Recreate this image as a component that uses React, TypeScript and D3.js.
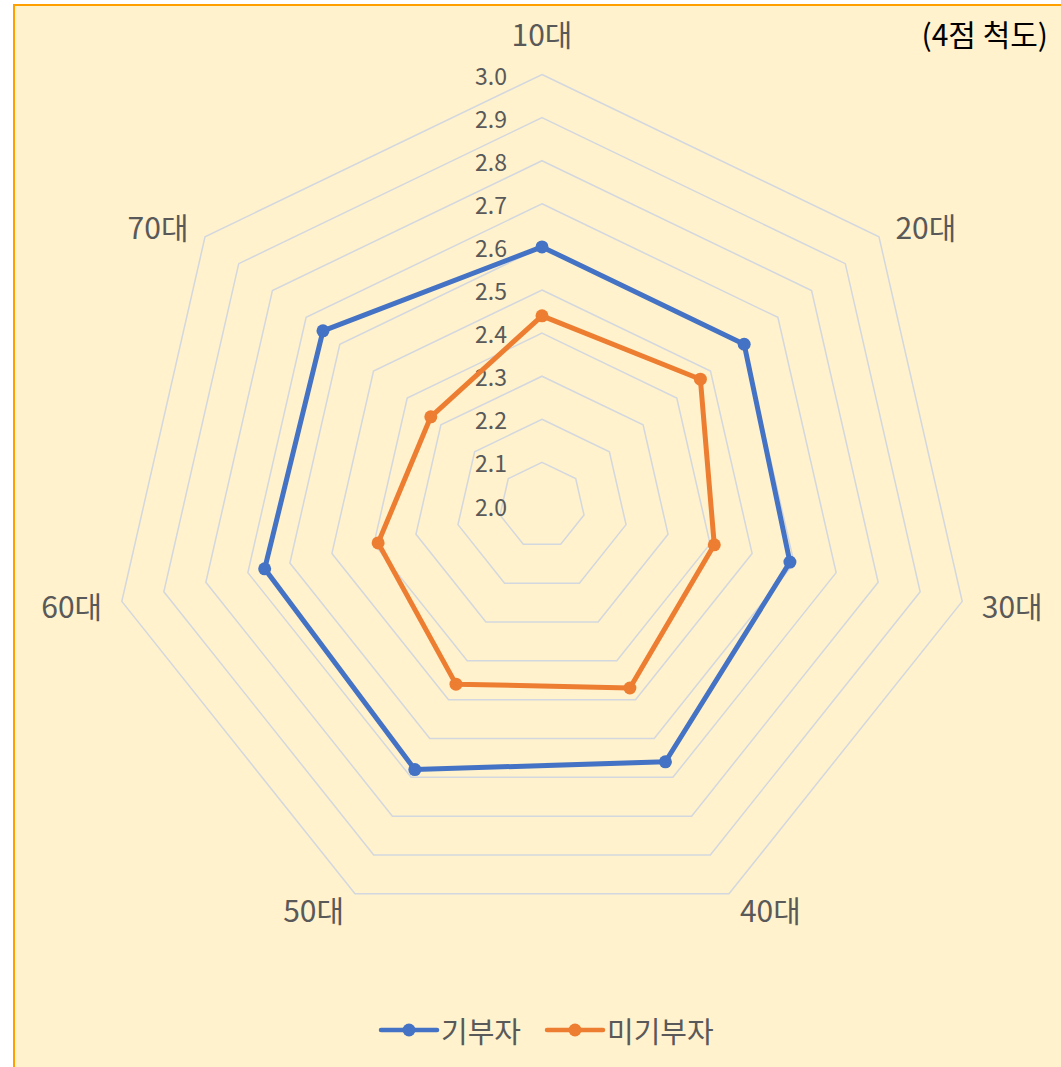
import React from "react";
import * as d3 from "d3";

const categories = ["10대", "20대", "30대", "40대", "50대", "60대", "70대"];
const donors = [2.6, 2.6, 2.59, 2.66, 2.68, 2.66, 2.65];
const nonDonors = [2.44, 2.47, 2.41, 2.47, 2.46, 2.39, 2.33];
const ticks = [2.0, 2.1, 2.2, 2.3, 2.4, 2.5, 2.6, 2.7, 2.8, 2.9, 3.0];
const seriesNames = ["기부자", "미기부자"];
const seriesColors = ["#4472C4", "#ED7D31"];
const unitLabel = "(4점 척도)";

const W = 1061;
const H = 1067;
const cx = 542;
const cy = 505.5;
const R = 431;
const FONT = "'Noto Sans CJK KR', 'Noto Sans', sans-serif";

export default function App() {
  const r = d3.scaleLinear().domain([2.0, 3.0]).range([0, R]);
  const n = categories.length;
  const ang = (i: number) => (i * 2 * Math.PI) / n;
  const pt = (i: number, v: number): [number, number] => [
    cx + r(v) * Math.sin(ang(i)),
    cy - r(v) * Math.cos(ang(i)),
  ];
  const lineGen = d3.line<[number, number]>().curve(d3.curveLinearClosed);
  const series = [donors, nonDonors];

  return (
    <svg
      width={W}
      height={H}
      style={{ position: "absolute", left: 0, top: 0, fontFamily: FONT }}
    >
      <rect x={14} y={5} width={1200} height={1200} fill="#FFF2CC" stroke="#FFA000" strokeWidth={2} />
      {ticks.slice(1).map((t) => (
        <path
          key={t}
          d={lineGen(categories.map((_, i) => pt(i, t))) || ""}
          fill="none"
          stroke="#D3D7DF"
          strokeWidth={1.5}
        />
      ))}
      {ticks.map((t) => (
        <text
          key={"t" + t}
          x={cx - 35}
          y={cy - r(t)}
          textAnchor="end"
          dominantBaseline="central"
          fontSize={23}
          fill="#595959"
        >
          {t.toFixed(1)}
        </text>
      ))}
      {categories.map((c, i) => {
        const [vx, vy] = pt(i, 3.0);
        const s = Math.sin(ang(i));
        const co = Math.cos(ang(i));
        let x = vx;
        let y = vy;
        let anchor: "start" | "middle" | "end" = "middle";
        if (Math.abs(s) < 0.1) {
          y = vy - 42;
        } else if (s > 0) {
          anchor = "start";
          x = vx + 4 + 16 * s;
          y = vy - co * 17;
        } else {
          anchor = "end";
          x = vx - 4 + 16 * s;
          y = vy - co * 17;
        }
        return (
          <text
            key={c}
            x={x}
            y={y}
            textAnchor={anchor}
            dominantBaseline="central"
            fontSize={30}
            fill="#595959"
          >
            {c}
          </text>
        );
      })}
      {series.map((vals, si) => (
        <g key={si}>
          <path
            d={lineGen(vals.map((v, i) => pt(i, v))) || ""}
            fill="none"
            stroke={seriesColors[si]}
            strokeWidth={5}
            strokeLinejoin="round"
          />
          {vals.map((v, i) => {
            const [x, y] = pt(i, v);
            return <circle key={i} cx={x} cy={y} r={6.5} fill={seriesColors[si]} />;
          })}
        </g>
      ))}
      <text x={1048} y={33} textAnchor="end" dominantBaseline="central" fontSize={30} fill="#000">
        {unitLabel}
      </text>
      {seriesNames.map((nm, si) => {
        const x0 = si === 0 ? 381 : 547;
        const ly = 1030;
        return (
          <g key={nm}>
            <line x1={x0} x2={x0 + 56} y1={ly} y2={ly} stroke={seriesColors[si]} strokeWidth={4.5} strokeLinecap="round" />
            <circle cx={x0 + 28} cy={ly} r={6.5} fill={seriesColors[si]} />
            <text x={x0 + 60} y={ly} dominantBaseline="central" fontSize={29} fill="#595959">
              {nm}
            </text>
          </g>
        );
      })}
    </svg>
  );
}
